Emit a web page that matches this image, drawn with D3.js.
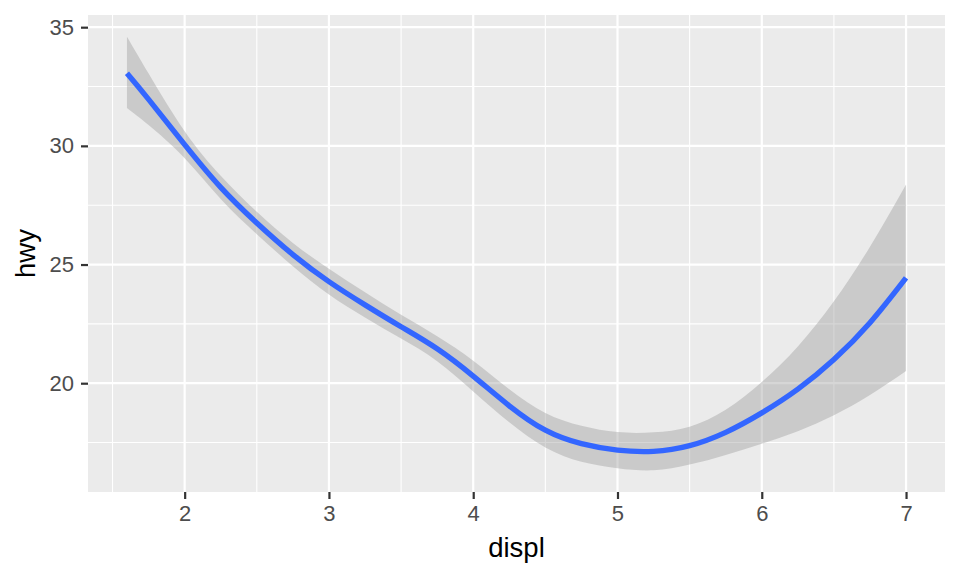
<!DOCTYPE html>
<html>
<head>
<meta charset="utf-8">
<script src="https://cdn.jsdelivr.net/npm/d3@7/dist/d3.min.js"></script>
<style>
  html, body { margin: 0; padding: 0; background: #ffffff; }
  svg { display: block; }
</style>
</head>
<body>
<div id="chart"></div>
<script>
// Data (loess smooth of hwy vs displ, with 95% band)
const displ    = [1.6,   1.75,  2.0,   2.25,  2.5,   2.75,  3.0,   3.25,  3.5,   3.75,  4.0,   4.25,  4.5,   4.75,  5.0,   5.25,  5.5,   5.75,  6.0,   6.25,  6.5,   6.75,  7.0];
const hwyFit   = [33.06, 31.96, 30.05, 28.25, 26.75, 25.42, 24.28, 23.3,  22.38, 21.45, 20.3,  19.05, 18.02, 17.45, 17.18, 17.13, 17.37, 17.93, 18.75, 19.75, 21.0,  22.55, 24.44];
const hwyUpper = [34.6,  33.05, 30.62, 28.74, 27.22, 25.91, 24.82, 23.83, 22.88, 21.98, 20.95, 19.75, 18.75, 18.21, 17.94, 17.93, 18.17, 18.88, 20.05, 21.55, 23.45, 25.75, 28.37];
const hwyLower = [31.6,  30.88, 29.48, 27.76, 26.28, 24.93, 23.74, 22.77, 21.88, 20.93, 19.65, 18.35, 17.29, 16.69, 16.42, 16.33, 16.57, 16.98, 17.45, 17.98, 18.65, 19.5,  20.51];

const xMajor = [2, 3, 4, 5, 6, 7];
const xMinor = [1.5, 2.5, 3.5, 4.5, 5.5, 6.5];
const yMajor = [20, 25, 30, 35];
const yMinor = [17.5, 22.5, 27.5, 32.5];
const xTitle = "displ";
const yTitle = "hwy";

const W = 960, H = 576;
const panel = { left: 88, right: 945, top: 15, bottom: 492 };

const svg = d3.select("#chart").append("svg").attr("width", W).attr("height", H);

function expand(lo, hi) { const d = (hi - lo) * 0.05; return [lo - d, hi + d]; }
const xDom = expand(d3.min(displ), d3.max(displ));
const yDom = expand(d3.min(hwyLower), d3.max(hwyUpper));

const x = d3.scaleLinear().domain(xDom).range([panel.left, panel.right]);
const y = d3.scaleLinear().domain(yDom).range([panel.bottom, panel.top]);

// panel background
svg.append("rect")
  .attr("x", panel.left).attr("y", panel.top)
  .attr("width", panel.right - panel.left).attr("height", panel.bottom - panel.top)
  .attr("fill", "#EBEBEB");

const grid = svg.append("g");
grid.selectAll(".xmin").data(xMinor).enter().append("line")
  .attr("x1", d => x(d)).attr("x2", d => x(d))
  .attr("y1", panel.top).attr("y2", panel.bottom)
  .attr("stroke", "#ffffff").attr("stroke-width", 1.1);
grid.selectAll(".ymin").data(yMinor).enter().append("line")
  .attr("y1", d => y(d)).attr("y2", d => y(d))
  .attr("x1", panel.left).attr("x2", panel.right)
  .attr("stroke", "#ffffff").attr("stroke-width", 1.1);
grid.selectAll(".xmaj").data(xMajor).enter().append("line")
  .attr("x1", d => x(d)).attr("x2", d => x(d))
  .attr("y1", panel.top).attr("y2", panel.bottom)
  .attr("stroke", "#ffffff").attr("stroke-width", 2.2);
grid.selectAll(".ymaj").data(yMajor).enter().append("line")
  .attr("y1", d => y(d)).attr("y2", d => y(d))
  .attr("x1", panel.left).attr("x2", panel.right)
  .attr("stroke", "#ffffff").attr("stroke-width", 2.2);

const pts = displ.map((d, i) => ({ x: d, fit: hwyFit[i], lo: hwyLower[i], hi: hwyUpper[i] }));

const area = d3.area()
  .x(d => x(d.x)).y0(d => y(d.lo)).y1(d => y(d.hi))
  .curve(d3.curveNatural);
svg.append("path").datum(pts)
  .attr("d", area)
  .attr("fill", "#999999").attr("fill-opacity", 0.4);

const line = d3.line()
  .x(d => x(d.x)).y(d => y(d.fit))
  .curve(d3.curveNatural);
svg.append("path").datum(pts)
  .attr("d", line)
  .attr("fill", "none").attr("stroke", "#3366FF").attr("stroke-width", 5.4)
  .attr("stroke-linejoin", "round");

// axes
const font = "'Liberation Sans', Arial, Helvetica, sans-serif";
const xAxis = d3.axisBottom(x).tickValues(xMajor).tickSize(7).tickPadding(6).tickFormat(d3.format("d"));
const gx = svg.append("g").attr("transform", `translate(0,${panel.bottom})`).call(xAxis);
gx.attr("font-size", null).attr("font-family", null);
gx.select(".domain").remove();
gx.selectAll(".tick line").attr("stroke", "#333333").attr("stroke-width", 2.2);
gx.selectAll(".tick text").attr("fill", "#4D4D4D").style("font-size", "22px").style("font-family", font);

const yAxis = d3.axisLeft(y).tickValues(yMajor).tickSize(7).tickPadding(7).tickFormat(d3.format("d"));
const gy = svg.append("g").attr("transform", `translate(${panel.left},0)`).call(yAxis);
gy.attr("font-size", null).attr("font-family", null);
gy.select(".domain").remove();
gy.selectAll(".tick line").attr("stroke", "#333333").attr("stroke-width", 2.2);
gy.selectAll(".tick text").attr("fill", "#4D4D4D").style("font-size", "22px").style("font-family", font);

svg.append("text")
  .attr("x", (panel.left + panel.right) / 2).attr("y", 557)
  .attr("text-anchor", "middle")
  .style("font-family", font).style("font-size", "27.5px").attr("fill", "#000000")
  .text(xTitle);

svg.append("text")
  .attr("transform", `translate(35,${(panel.top + panel.bottom) / 2}) rotate(-90)`)
  .attr("text-anchor", "middle")
  .style("font-family", font).style("font-size", "27.5px").attr("fill", "#000000")
  .text(yTitle);
</script>
</body>
</html>
